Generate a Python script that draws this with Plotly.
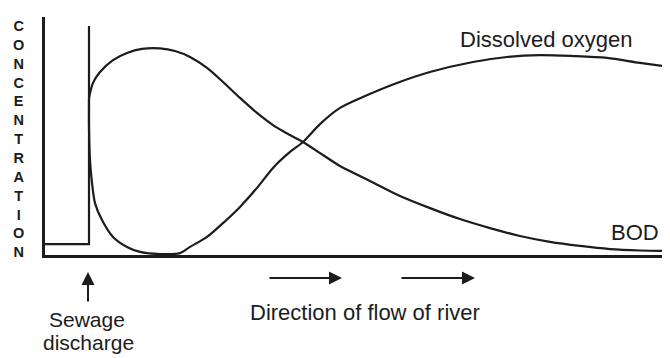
import plotly.graph_objects as go

# distance along river (0-100) and concentration (0-100)
discharge_x = [0, 7.04, 7.04]
discharge_y = [4.6, 4.6, 96.2]

bod_x = [7.04, 7.68, 8.8, 10.88, 13.12, 15.52, 18.4, 20.8, 23.2, 25.92,
         28.48, 31.2, 33.92, 36.48, 39.2, 41.28, 44.48, 47.2, 52.0, 56.8,
         61.6, 66.4, 71.2, 76.0, 80.8, 85.6, 90.4, 95.2, 98.72]
bod_y = [66.0, 72.3, 76.9, 81.9, 84.9, 86.6, 86.8, 85.7, 83.2, 78.6,
         72.7, 66.0, 59.7, 54.6, 50.4, 47.5, 42.0, 37.4, 31.1, 24.8,
         19.7, 15.1, 11.3, 8.0, 5.5, 3.8, 2.5, 1.9, 1.7]

do_x = [7.04, 7.04, 7.2, 7.52, 8.0, 9.12, 10.88, 13.12, 15.2, 18.4,
        21.6, 23.2, 25.92, 28.48, 31.2, 33.92, 36.48, 39.2, 41.28, 44.0,
        47.2, 51.2, 56.32, 61.6, 68.48, 73.92, 79.2, 84.48, 89.92, 95.2, 100]
do_y = [66.0, 53.8, 39.9, 30.3, 21.8, 14.7, 7.6, 3.4, 1.3, 0.4,
        0.8, 3.4, 7.6, 13.4, 20.2, 28.2, 36.6, 43.3, 47.5, 55.0,
        61.8, 66.8, 72.3, 76.9, 81.1, 83.2, 84.0, 83.6, 82.8, 80.7, 79.0]

y_label = 'CONCENTRATION'

INK = '#1c1c1c'
FONT = 'Liberation Sans, Arial, sans-serif'

fig = go.Figure()
fig.add_trace(go.Scatter(x=discharge_x, y=discharge_y, mode='lines',
                         line={'color': INK, 'width': 2.2}, hoverinfo='skip'))
fig.add_trace(go.Scatter(x=bod_x, y=bod_y, mode='lines', name='BOD',
                         line={'color': INK, 'width': 2.2, 'shape': 'spline',
                               'smoothing': 0.8}))
fig.add_trace(go.Scatter(x=do_x, y=do_y, mode='lines', name='Dissolved oxygen',
                         line={'color': INK, 'width': 2.2, 'shape': 'spline',
                               'smoothing': 0.8}))

# labels, in paper units of the plot area
annotations = [
    dict(x=0.8016, y=0.9034, text='Dissolved oxygen', size=22),
    dict(x=0.944, y=0.0966, text='BOD', size=22),
    dict(x=0.512, y=-0.2395, text='Direction of flow of river', size=22),
    dict(x=0.0672, y=-0.2731, text='Sewage', size=21),
    dict(x=0.0688, y=-0.3697, text='discharge', size=21),
]
for a in annotations:
    a.update(xref='paper', yref='paper', showarrow=False,
             xanchor='center', yanchor='middle',
             font={'family': FONT, 'size': a.pop('size'), 'color': INK})

# arrows below the x axis (head position, tail offset in px)
for hx, hy, ax, ay in [(0.4752, -0.0966, -74, 0), (0.688, -0.0966, -75, 0),
                       (0.0688, -0.0714, 0, 31)]:
    annotations.append(dict(x=hx, y=hy, ax=ax, ay=ay, xref='paper',
                            yref='paper', text='', showarrow=True,
                            arrowhead=2, arrowsize=1.3, arrowwidth=2,
                            arrowcolor=INK))

# stacked upright letters for the y axis title
annotations.append(dict(x=-0.0432, y=(255 - 138.5) / 238, xref='paper',
                        yref='paper', xanchor='center', yanchor='middle',
                        text='<br>'.join(y_label), showarrow=False,
                        font={'family': FONT, 'size': 14.5, 'color': INK,
                              'weight': 'bold'}))

# page body has an 8px margin, so the figure is 8px smaller
fig.update_layout(width=662, height=350, showlegend=False,
                  margin={'l': 37, 'r': 0, 't': 9, 'b': 103},
                  paper_bgcolor='white', plot_bgcolor='white',
                  annotations=annotations)
fig.update_xaxes(range=[0, 100], showline=True, linecolor=INK, linewidth=2.5,
                 showgrid=False, zeroline=False, showticklabels=False,
                 ticks='')
fig.update_yaxes(range=[0, 100], showline=True, linecolor=INK, linewidth=2.5,
                 showgrid=False, zeroline=False, showticklabels=False,
                 ticks='')
fig.write_html("out.html")
